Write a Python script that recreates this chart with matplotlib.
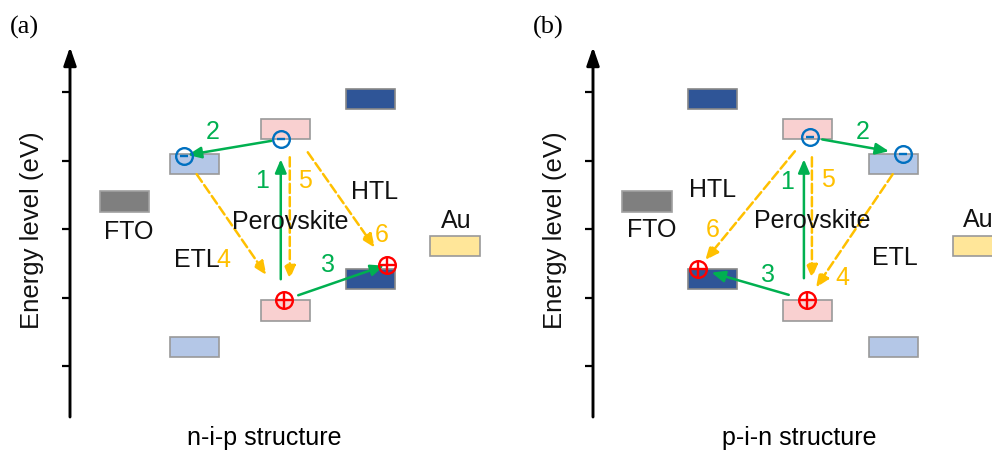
import matplotlib
matplotlib.use("Agg")
import matplotlib.pyplot as plt
from matplotlib.patches import Rectangle

plt.rcParams["font.family"] = ["Liberation Sans", "DejaVu Sans"]

# energy levels (arbitrary eV scale, ticks at -2 ... -6)
tick_levels = [-2, -3, -4, -5, -6]
fto_level = -3.60
etl_levels = (-3.05, -5.72)     # conduction / valence band
pvk_levels = (-2.54, -5.19)
htl_levels = (-2.10, -4.73)     # LUMO / HOMO
au_level = -4.25

# layer order and column positions for each structure
nip_layers = ["FTO", "ETL", "Perovskite", "HTL", "Au"]
nip_cols = [0.80, 1.82, 3.15, 4.39, 5.62]
pin_layers = ["FTO", "HTL", "Perovskite", "ETL", "Au"]
pin_cols = [0.79, 1.74, 3.13, 4.39, 5.61]

# label positions (x, y) for the layer names
nip_names = {"FTO": (0.86, -4.03), "ETL": (1.85, -4.44), "Perovskite": (3.21, -3.88),
             "HTL": (4.44, -3.45), "Au": (5.64, -3.87)}
pin_names = {"FTO": (0.86, -4.00), "HTL": (1.75, -3.42), "Perovskite": (3.20, -3.87),
             "ETL": (4.41, -4.41), "Au": (5.62, -3.85)}

# process numbers: 1-3 charge extraction (green), 4-6 recombination (orange)
nip_steps = {"1": (2.80, -3.28), "2": (2.09, -2.57), "3": (3.77, -4.51),
             "4": (2.24, -4.44), "5": (3.43, -3.28), "6": (4.55, -4.07)}
pin_steps = {"1": (2.83, -3.30), "2": (3.94, -2.57), "3": (2.55, -4.66),
             "4": (3.64, -4.70), "5": (3.43, -3.27), "6": (1.75, -4.00)}

S = 68.5            # pixels per unit
BW, BH = 0.72, 0.30
FS = 18
GREEN = "#00b050"
ORANGE = "#ffc000"
BLUE = "#0070c0"
RED = "#ff0000"

fills = {"FTO": ("#7f7f7f", "#a0a0a0"), "ETL": ("#b4c7e7", "#999999"),
         "Perovskite": ("#f9d0d0", "#999999"), "HTL": ("#2f5597", "#888888"),
         "Au": ("#ffe699", "#999999")}
levels = {"FTO": [fto_level], "ETL": list(etl_levels), "Perovskite": list(pvk_levels),
          "HTL": list(htl_levels), "Au": [au_level]}


def px(dx=0, dy=0):
    # pixel offset -> data offset (y up)
    return dx / S, -dy / S


def pt(x, y, dx=0, dy=0):
    ox, oy = px(dx, dy)
    return (x + ox, y + oy)


def arrow(ax, a, b, color, dashed=False, sA=0, sB=0):
    ax.annotate("", xy=b, xytext=a,
                arrowprops=dict(arrowstyle="-|>,head_length=0.8,head_width=0.34",
                                color=color, lw=1.8, linestyle="--" if dashed else "-",
                                shrinkA=sA, shrinkB=sB), zorder=3)


def carrier(ax, p, kind):
    if kind == "e":
        ax.plot(*p, "o", ms=12, mfc="none", mec=BLUE, mew=1.7, zorder=5)
        ax.plot(*p, "_", ms=6, mec=BLUE, mew=1.7, zorder=5)
    else:
        ax.plot(*p, "o", ms=12, mfc="none", mec=RED, mew=1.7, zorder=5)
        ax.plot(*p, "+", ms=12, mec=RED, mew=1.7, zorder=5)


def panel(ax, axis_px, tag, layers, cols, names, steps, title, title_x):
    ax.set_xlim(-axis_px / S, (496 - axis_px) / S)
    ax.set_ylim(-2 - (452 - 93) / S, -2 + 93 / S)
    ax.axis("off")

    # energy axis with arrow and ticks
    ax.annotate("", xy=(0, -2 + 45 / S), xytext=(0, -2 - 325 / S),
                arrowprops=dict(arrowstyle="-|>,head_length=1.1,head_width=0.38",
                                color="black", lw=2.1, shrinkA=0, shrinkB=0))
    for t in tick_levels:
        ax.plot([-8 / S, 0], [t, t], color="black", lw=1.6, solid_capstyle="butt")
    ax.text(-38 / S, -4.0, "Energy level (eV)", rotation=90, fontsize=18.5,
            ha="center", va="center", color="#111111")
    ax.text(-60 / S, -2 + 66 / S, tag, fontsize=19, family="Liberation Serif",
            ha="left", va="center")
    ax.text(title_x, -7.04, title, fontsize=FS, ha="center", va="center")

    col = dict(zip(layers, cols))
    for name in layers:
        fc, ec = fills[name]
        for lv in levels[name]:
            ax.add_patch(Rectangle((col[name] - BW / 2, lv - BH / 2), BW, BH,
                                   facecolor=fc, edgecolor=ec, lw=1.2, zorder=2))
        x, y = names[name]
        ax.text(x, y, name, fontsize=FS, ha="center", va="center", color="#111111",
                zorder=4)

    for s, (x, y) in steps.items():
        ax.text(x, y, s, fontsize=FS, ha="center", va="center",
                color=GREEN if s in "123" else ORANGE, zorder=4)
    return col


fig = plt.figure(figsize=(9.92, 4.52), dpi=100)
ax_a = fig.add_axes([0, 0, 0.5, 1])
ax_b = fig.add_axes([0.5, 0, 0.5, 1])

# ---- n-i-p ----
c = panel(ax_a, 70, "(a)", nip_layers, nip_cols, nip_names, nip_steps,
          "n-i-p structure", 2.83)
xp, xe, xh = c["Perovskite"], c["ETL"], c["HTL"]
e_pvk = pt(xp, pvk_levels[0] - BH / 2, -5, 0)
e_etl = pt(xe, etl_levels[0] + BH / 2, -11, 2)
h_pvk = pt(xp, pvk_levels[1] + BH / 2, -2, 0)
h_htl = pt(xh, htl_levels[1] + BH / 2, 16, -4)
arrow(ax_a, pt(xp, pvk_levels[1] + BH / 2, -5, -21), pt(xp, pvk_levels[0] - BH / 2, -5, 20), GREEN)
arrow(ax_a, e_pvk, e_etl, GREEN, sA=7, sB=3)
arrow(ax_a, h_pvk, h_htl, GREEN, sA=11, sB=2)
arrow(ax_a, pt(xp, pvk_levels[0] - BH / 2, 4, 18), pt(xp, pvk_levels[1] + BH / 2, 4, -21), ORANGE, True)
arrow(ax_a, pt(xe, etl_levels[0] - BH / 2, 2, 0), h_pvk, ORANGE, True, sB=22)
arrow(ax_a, pt(xp, pvk_levels[0] - BH / 2, 22, 13), h_htl, ORANGE, True, sB=15)
for p, k in [(e_pvk, "e"), (e_etl, "e"), (h_pvk, "h"), (h_htl, "h")]:
    carrier(ax_a, p, k)

# ---- p-i-n ----
c = panel(ax_b, 97, "(b)", pin_layers, pin_cols, pin_names, pin_steps,
          "p-i-n structure", 3.01)
xp, xe, xh = c["Perovskite"], c["ETL"], c["HTL"]
e_pvk = pt(xp, pvk_levels[0] - BH / 2, 2.5, -2)
e_etl = pt(xe, etl_levels[0] + BH / 2, 9, 0)
h_pvk = pt(xp, pvk_levels[1] + BH / 2, 0, 0)
h_htl = pt(xh, htl_levels[1] + BH / 2, -14, 0)
arrow(ax_b, pt(xp, pvk_levels[1] + BH / 2, -3.5, -22), pt(xp, pvk_levels[0] - BH / 2, -3.5, 20), GREEN)
arrow(ax_b, e_pvk, e_etl, GREEN, sA=9, sB=10)
arrow(ax_b, h_pvk, h_htl, GREEN, sA=14, sB=10)
arrow(ax_b, pt(xp, pvk_levels[0] - BH / 2, 4.5, 18), pt(xp, pvk_levels[1] + BH / 2, 4.5, -22), ORANGE, True)
arrow(ax_b, pt(xe, etl_levels[0] - BH / 2, -1, 0), h_pvk, ORANGE, True, sB=11)
arrow(ax_b, pt(xp, pvk_levels[0] - BH / 2, -12.5, 12), h_htl, ORANGE, True, sB=8)
for p, k in [(e_pvk, "e"), (e_etl, "e"), (h_pvk, "h"), (h_htl, "h")]:
    carrier(ax_b, p, k)

fig.savefig("out.png", dpi=100)
